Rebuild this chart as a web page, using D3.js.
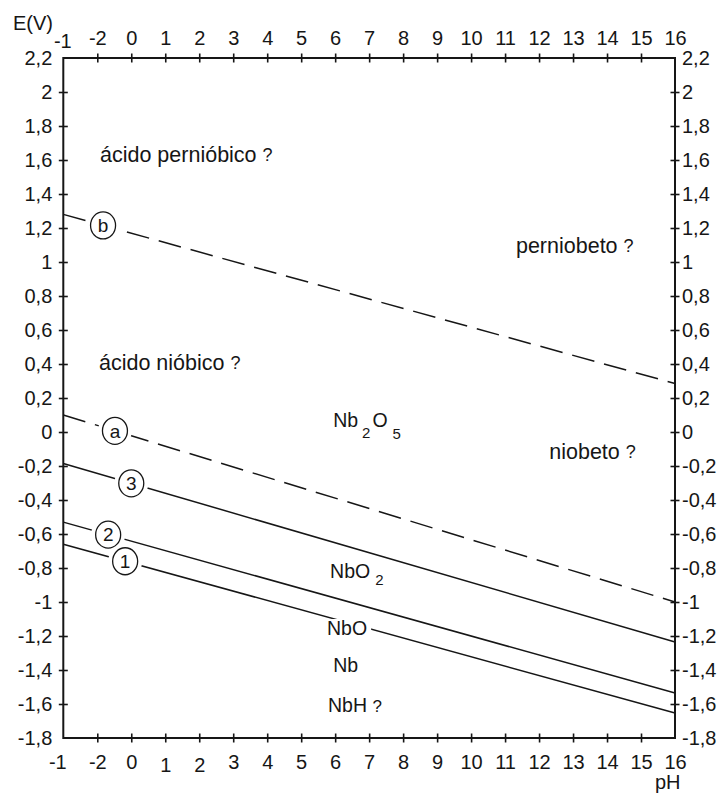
<!DOCTYPE html>
<html>
<head>
<meta charset="utf-8">
<script src="https://cdn.jsdelivr.net/npm/d3@7"></script>
<style>
  body { margin: 0; background: #fff; }
  svg { display: block; }
  text { font-family: "Liberation Sans", Arial, sans-serif; fill: #161616; }
</style>
</head>
<body>
<svg id="chart" width="721" height="794"></svg>
<script>
// ---------- data ----------
const pHDomain = [-2, 16];
const eDomain = [-1.8, 2.2];

const pHTickValues = [-2, -1, 0, 1, 2, 3, 4, 5, 6, 7, 8, 9, 10, 11, 12, 13, 14, 15, 16];
const pHTickLabels = ["-1", "-2", "0", "1", "2", "3", "4", "5", "6", "7", "8", "9", "10", "11", "12", "13", "14", "15", "16"];
const eTickValues = [-1.8, -1.6, -1.4, -1.2, -1, -0.8, -0.6, -0.4, -0.2, 0, 0.2, 0.4, 0.6, 0.8, 1, 1.2, 1.4, 1.6, 1.8, 2, 2.2];

// equilibrium lines: E at pH -2 and at pH 16
const lineIds     = ["b", "a", "3", "2", "1"];
const lineStartE  = [1.28, 0.10, -0.185, -0.53, -0.66];
const lineEndE    = [0.285, -1.00, -1.235, -1.535, -1.653];
const lineDashed  = [true, true, false, false, false];
const markerPH    = [-0.83, -0.48, 0.0, -0.68, -0.18];

// region labels (pH, E of baseline-left)
const regionTexts = ["ácido pernióbico", "perniobeto", "ácido nióbico", "niobeto"];
const regionPH    = [-0.92, 11.32, -0.95, 12.30];
const regionE     = [1.59, 1.053, 0.365, -0.16];

// species labels
const speciesPH = { Nb2O5: 5.94, NbO2: 5.85, NbO: 5.76, Nb: 5.94, NbH: 5.79 };
const speciesE  = { Nb2O5: 0.03, NbO2: -0.86, NbO: -1.194, Nb: -1.41, NbH: -1.647 };

// ---------- scales ----------
const svg = d3.select("#chart");
const x = d3.scaleLinear().domain(pHDomain).range([63.3, 675]);
const y = d3.scaleLinear().domain(eDomain).range([738, 58]);
const fmt = d => String(d).replace(".", ",");
const INK = "#161616";
const FONT = '"Liberation Sans", Arial, sans-serif';

function styleAxis(g, cross, dir) {
  g.attr("font-size", 20).attr("font-family", FONT).attr("color", INK);
  g.select(".domain").remove();
  g.selectAll(".tick line").attr("stroke-width", 1.6);
  if (dir === "h") g.selectAll(".tick line").attr("y1", cross);
  else g.selectAll(".tick line").attr("x1", cross);
}

// top axis
const gTop = svg.append("g").attr("transform", `translate(0,${y(eDomain[1])})`)
  .call(d3.axisTop(x).tickValues(pHTickValues).tickFormat((d, i) => pHTickLabels[i])
    .tickSizeInner(4.5).tickSizeOuter(0).tickPadding(8.5));
styleAxis(gTop, 4.5, "h");
gTop.selectAll(".tick text").filter((d, i) => i === 0).attr("y", -10.5).attr("x", -1);

// bottom axis
const gBot = svg.append("g").attr("transform", `translate(0,${y(eDomain[0])})`)
  .call(d3.axisBottom(x).tickValues(pHTickValues).tickFormat((d, i) => pHTickLabels[i])
    .tickSizeInner(4.5).tickSizeOuter(0).tickPadding(12));
styleAxis(gBot, -4.5, "h");
gBot.selectAll(".tick text").filter((d, i) => i === 0).attr("x", -6);
gBot.selectAll(".tick text").filter((d, i) => pHTickLabels[i] === "1" || pHTickLabels[i] === "2").attr("y", 19.5);

// left axis
const gLeft = svg.append("g").attr("transform", `translate(${x(pHDomain[0])},0)`)
  .call(d3.axisLeft(y).tickValues(eTickValues).tickFormat(fmt)
    .tickSizeInner(4.5).tickSizeOuter(0).tickPadding(6.5));
styleAxis(gLeft, 4.5, "v");

// right axis
const gRight = svg.append("g").attr("transform", `translate(${x(pHDomain[1])},0)`)
  .call(d3.axisRight(y).tickValues(eTickValues).tickFormat(fmt)
    .tickSizeInner(4.5).tickSizeOuter(0).tickPadding(2.5));
styleAxis(gRight, -4.5, "v");

// remove tick marks at the corners
[gTop, gBot].forEach(g => g.selectAll(".tick").filter(d => d === pHDomain[0] || d === pHDomain[1]).select("line").remove());
[gLeft, gRight].forEach(g => g.selectAll(".tick").filter(d => d === eDomain[0] || d === eDomain[1]).select("line").remove());

// frame
svg.append("path")
  .attr("d", `M${x(pHDomain[0])},${y(eDomain[1])}H${x(pHDomain[1])}V${y(eDomain[0])}H${x(pHDomain[0])}Z`)
  .attr("fill", "none").attr("stroke", INK).attr("stroke-width", 2);

// axis titles
svg.append("text").attr("x", 13).attr("y", 30).attr("font-size", 20).text("E(V)");
svg.append("text").attr("x", 655).attr("y", 789).attr("font-size", 20).text("pH");

// ---------- lines ----------
const lineData = lineIds.map((id, i) => ({
  id, dashed: lineDashed[i],
  pts: [[pHDomain[0], lineStartE[i]], [pHDomain[1], lineEndE[i]]],
  mpH: markerPH[i]
}));
const lineGen = d3.line().x(d => x(d[0])).y(d => y(d[1]));

svg.append("g").selectAll("path").data(lineData).join("path")
  .attr("d", d => lineGen(d.pts))
  .attr("fill", "none").attr("stroke", INK).attr("stroke-width", 1.5)
  .attr("stroke-dasharray", d => d.dashed ? "23,10" : null);

// markers
const eAt = (d, pH) => d.pts[0][1] + (d.pts[1][1] - d.pts[0][1]) * (pH - d.pts[0][0]) / (d.pts[1][0] - d.pts[0][0]);
const mk = svg.append("g").selectAll("g").data(lineData).join("g")
  .attr("transform", d => `translate(${x(d.mpH)},${y(eAt(d, d.mpH))})`);
mk.append("ellipse").attr("rx", 17).attr("ry", 17).attr("fill", "#fff");
mk.append("ellipse").attr("rx", 12.5).attr("ry", 13.5).attr("fill", "#fff").attr("stroke", INK).attr("stroke-width", 1.3);
mk.append("text").attr("text-anchor", "middle").attr("dy", "0.36em").attr("font-size", 19).text(d => d.id);

// ---------- region labels ----------
regionTexts.forEach((t, i) => {
  const tx = svg.append("text").attr("x", x(regionPH[i])).attr("y", y(regionE[i])).attr("font-size", 21.5);
  tx.append("tspan").text(t + " ");
  tx.append("tspan").attr("font-size", 18).attr("dy", -1).text("?");
});

// ---------- species labels ----------
const SP = 19.5, SUB = 15;
// Nb2O5
{
  const t = svg.append("text").attr("x", x(speciesPH.Nb2O5)).attr("y", y(speciesE.Nb2O5)).attr("font-size", SP);
  t.append("tspan").text("Nb");
  t.append("tspan").attr("font-size", SUB).attr("dx", 4).attr("dy", 11).text("2");
  t.append("tspan").attr("dx", 2).attr("dy", -11).text("O");
  t.append("tspan").attr("font-size", SUB).attr("dx", 5).attr("dy", 12).text("5");
}
// NbO2
{
  const t = svg.append("text").attr("x", x(speciesPH.NbO2)).attr("y", y(speciesE.NbO2)).attr("font-size", SP);
  t.append("tspan").text("NbO");
  t.append("tspan").attr("font-size", SUB).attr("dx", 5).attr("dy", 7).text("2");
}
// NbO with white background over line 1
{
  const t = svg.append("text").attr("x", x(speciesPH.NbO)).attr("y", y(speciesE.NbO)).attr("font-size", SP).text("NbO");
  const bb = t.node().getBBox();
  svg.insert("rect", () => t.node())
    .attr("x", bb.x - 4).attr("y", bb.y + 2).attr("width", bb.width + 8).attr("height", bb.height - 2)
    .attr("fill", "#fff");
}
// Nb
svg.append("text").attr("x", x(speciesPH.Nb)).attr("y", y(speciesE.Nb)).attr("font-size", SP).text("Nb");
// NbH ?
{
  const t = svg.append("text").attr("x", x(speciesPH.NbH)).attr("y", y(speciesE.NbH)).attr("font-size", SP);
  t.append("tspan").text("NbH ");
  t.append("tspan").attr("font-size", 17).text("?");
}
</script>
</body>
</html>
